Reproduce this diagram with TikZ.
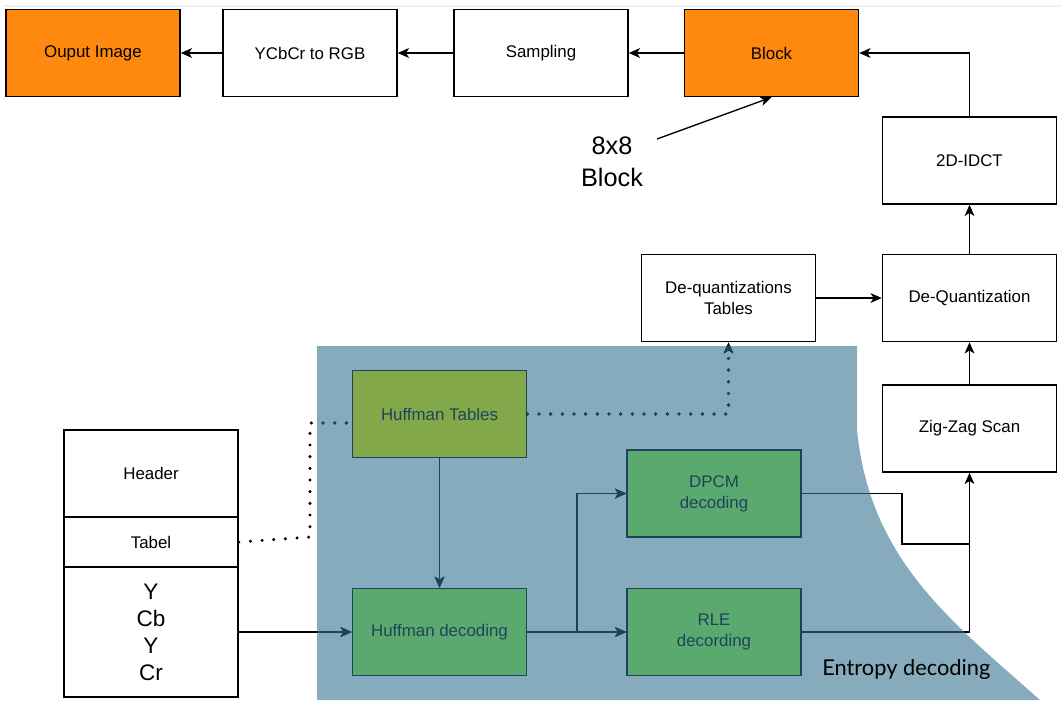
\documentclass[tikz,border=0pt]{standalone}
\usepackage{fontspec}
\setmainfont{Liberation Sans}
\newfontfamily\labelfont{Lato}
\usetikzlibrary{arrows.meta,calc}

\definecolor{jpgorange}{RGB}{255,136,14}
\definecolor{entropyblue}{RGB}{134,171,189}
\definecolor{tablegreen}{RGB}{130,168,74}
\definecolor{decgreen}{RGB}{90,170,112}
\definecolor{ink}{RGB}{30,68,90}

% the shaded entropy decoding area
\newcommand{\entropyregion}{(317,346) -- (857,346) -- (857,430) .. controls (870,560) and (950,620) .. (1040,700) -- (317,700) -- cycle}

% connectors that run in or into the shaded area
\newcommand{\wires}{%
\draw[->] (data.east) -- (hd.west);
\draw[->] (ht) -- (hd);
\draw[->] (hd.east) -- (rle.west);
\draw[->] (fork) |- (dpcm.west);
\draw (dpcm.east) -| (bend) -- (bend -| zz.south);
\draw[->] (rle.east) -| (zz.south);
\draw[dots] (tab.east) -- (knee) |- ($(ht.west)+(0,9)$);
\draw[dots,->] (ht.east) -| (dqt.south);
}

\tikzset{
  box/.style={draw, line width=1.1pt, minimum width=4.35cm, minimum height=2.175cm,
    align=center, font=\fontsize{12}{15}\selectfont},
  hot/.style={box, fill=jpgorange},
  inbox/.style={box, draw=ink, text=ink},
  dots/.style={line width=2.4pt, dash pattern=on 0pt off 8.3pt, line cap=round},
  >={Stealth[length=8pt,width=7pt,inset=2.2pt,line width=0.6pt]}
}

\begin{document}
\begin{tikzpicture}[x=0.025cm, y=-0.025cm, line width=0.95pt]
\useasboundingbox (0,0) rectangle (1062,700);
\draw[gray!12, line width=0.8pt] (3,6) -- (1062,6);

\fill[entropyblue] \entropyregion;

% top row
\node[hot] (out) at (93,53) {Ouput Image};
\node[box] (ycc) at (310,53) {YCbCr to RGB};
\node[box] (samp) at (541,53) {Sampling};
\node[hot] (blk) at (771.5,53) {Block};
\foreach \a/\b in {samp/ycc, ycc/out, blk/samp}
  \draw[->] (\a) -- (\b);

\node[font=\fontsize{18}{23}\selectfont, align=center] (blklbl) at (612,162) {8x8\\Block};
\coordinate (lbltip) at (657,139);
\draw[->] (lbltip) -- (blk.south);

% right column
\node[box] (idct) at (969.5,160.5) {2D-IDCT};
\node[box] (dq) at (969.5,298) {De-Quantization};
\node[box] (zz) at (969.5,428.5) {Zig-Zag Scan};
\node[box] (dqt) at (728.5,298) {De-quantizations\\Tables};
\draw[->] (idct.north) |- (blk.east);
\draw[->] (dq) -- (idct);
\draw[->] (zz) -- (dq);
\draw[->] (dqt) -- (dq);

% file layout
\node[box] (head) at (151,473.5) {Header};
\node[box, minimum height=1.25cm] (tab) at (151,542) {Tabel};
\node[box, minimum height=3.25cm, font=\fontsize{16}{19.2}\selectfont] (data) at (151,632) {Y\\Cb\\Y\\Cr};

% entropy decoding
\node[inbox, fill=tablegreen] (ht) at (439.5,414) {Huffman Tables};
\node[inbox, fill=decgreen] (hd) at (439.5,632) {Huffman decoding};
\node[inbox, fill=decgreen] (dpcm) at (714,493.5) {DPCM\\decoding};
\node[inbox, fill=decgreen] (rle) at (714,632) {RLE\\decording};
\node[font=\labelfont\fontsize{15.5}{19}\selectfont, anchor=base west] (entlbl) at (817,675) {Entropy decoding};

\coordinate (fork) at (577,632);
\coordinate (bend) at (902,544);
\coordinate (knee) at (310,537);

\wires
\begin{scope}[color=ink]
  \clip \entropyregion;
  \wires
\end{scope}

\end{tikzpicture}
\end{document}
